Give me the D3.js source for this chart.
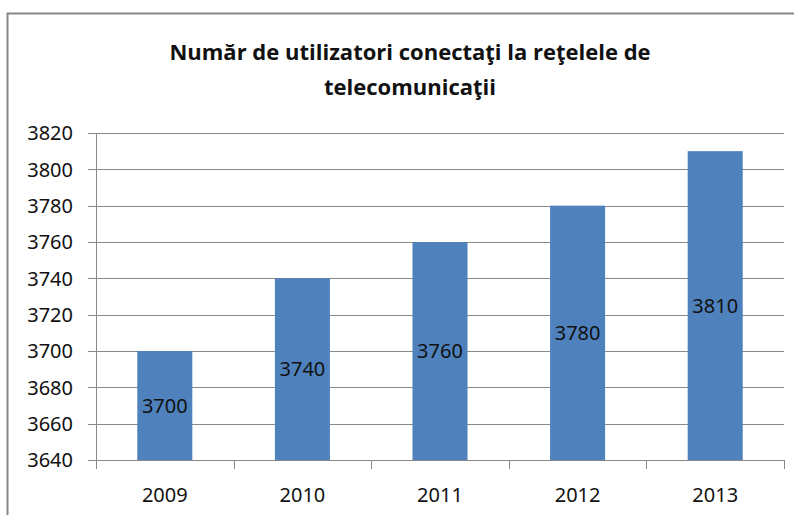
<!DOCTYPE html>
<html><head><meta charset="utf-8">
<script src="https://cdn.jsdelivr.net/npm/d3@7"></script>
<style>body{margin:0;background:#fff}svg{display:block}</style>
</head><body>
<script>
const categories = ["2009","2010","2011","2012","2013"];
const values = [3700,3740,3760,3780,3810];
const yTicks = [3640,3660,3680,3700,3720,3740,3760,3780,3800,3820];
const titleLines = ["Număr de utilizatori conectaţi la reţelele de","telecomunicaţii"];

(function(){
const W=794,H=515;
const NUMFONT="Noto Sans", NUMSIZE=20;
const svg=d3.select("body").append("svg").attr("width",W).attr("height",H);
svg.append("rect").attr("x",7.5).attr("y",13.5).attr("width",W).attr("height",H)
  .attr("fill","#fff").attr("stroke","#878787").attr("stroke-width",2);

const pL=96,pR=784,pT=133,pB=460;
const x=d3.scaleBand().domain(categories).range([pL,pR]).paddingInner(0.6).paddingOuter(0.3);
const xb=d3.scaleBand().domain(categories).range([pL,pR]);
const y=d3.scaleLinear().domain([3640,3820]).range([pB,pT]);

svg.append("g").selectAll("line").data(yTicks).join("line")
  .attr("x1",pL-8).attr("x2",pR).attr("y1",d=>Math.round(y(d))+0.5).attr("y2",d=>Math.round(y(d))+0.5)
  .attr("stroke","#888").attr("stroke-width",1);
svg.append("line").attr("x1",pL+0.5).attr("x2",pL+0.5).attr("y1",pT).attr("y2",pB+9).attr("stroke","#888");
const bounds=categories.slice(1).map(d=>xb(d)).concat([pR]);
svg.append("g").selectAll("line").data(bounds).join("line")
  .attr("x1",d=>Math.round(d)+0.5).attr("x2",d=>Math.round(d)+0.5)
  .attr("y1",pB).attr("y2",pB+9).attr("stroke","#888");

svg.append("g").selectAll("text").data(yTicks).join("text")
  .attr("x",73).attr("y",d=>y(d)).attr("dy","0.36em").attr("text-anchor","end")
  .attr("font-family",NUMFONT).attr("font-size",NUMSIZE).attr("fill","#111").text(d=>d);

svg.append("g").selectAll("rect").data(values).join("rect")
  .attr("x",(d,i)=>x(categories[i])).attr("width",x.bandwidth())
  .attr("y",d=>y(d)).attr("height",d=>pB-y(d)).attr("fill","#4F81BD");

svg.append("g").selectAll("text").data(values).join("text")
  .attr("x",(d,i)=>x(categories[i])+x.bandwidth()/2).attr("y",d=>(y(d)+pB)/2)
  .attr("dy","0.36em").attr("text-anchor","middle")
  .attr("font-family",NUMFONT).attr("font-size",NUMSIZE).attr("fill","#111").text(d=>d);

svg.append("g").selectAll("text").data(categories).join("text")
  .attr("x",d=>xb(d)+xb.bandwidth()/2).attr("y",495).attr("dy","0.36em").attr("text-anchor","middle")
  .attr("font-family",NUMFONT).attr("font-size",NUMSIZE).attr("fill","#111").text(d=>d);

svg.append("g").selectAll("text").data(titleLines).join("text")
  .attr("x",410).attr("y",(d,i)=>52+i*35).attr("dy","0.36em").attr("text-anchor","middle")
  .attr("font-family","Open Sans, sans-serif").attr("font-weight","bold")
  .attr("font-size",22).attr("fill","#111").text(d=>d);
})();
</script>
</body></html>
